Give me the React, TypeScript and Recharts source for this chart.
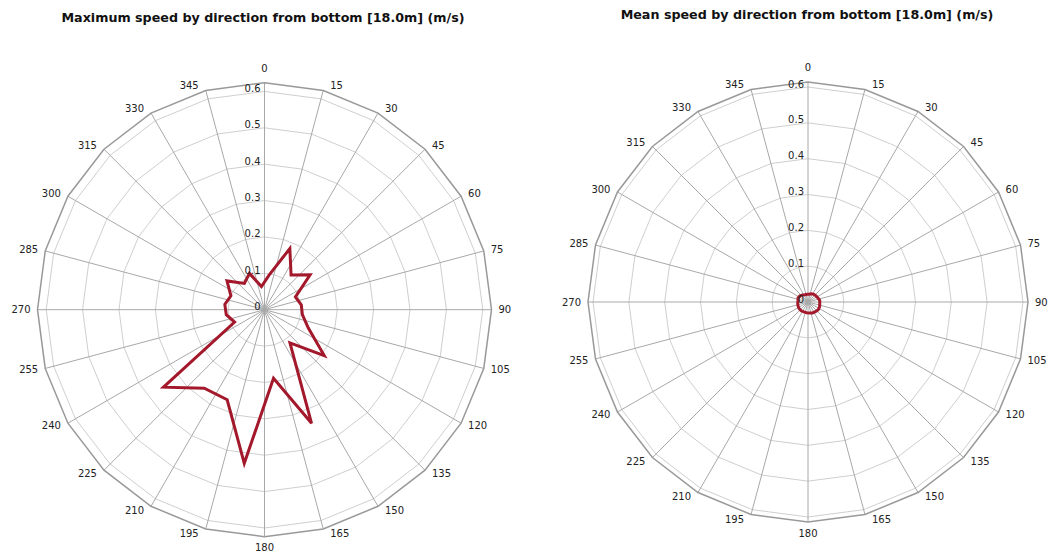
import React from 'react';
import { RadarChart, Radar, PolarGrid, PolarAngleAxis, PolarRadiusAxis } from 'recharts';

// compass labels on the axis
const DIRECTIONS = [0, 15, 30, 45, 60, 75, 90, 105, 120, 135, 150, 165, 180, 195, 210, 225, 240, 255, 270, 285, 300, 315, 330, 345];

// the speeds are plotted at the middle of each 15 degree bin
const BIN_CENTRES = [7.5, 22.5, 37.5, 52.5, 67.5, 82.5, 97.5, 112.5, 127.5, 142.5, 157.5, 172.5, 187.5, 202.5, 217.5, 232.5, 247.5, 262.5, 277.5, 292.5, 307.5, 322.5, 337.5, 352.5];

const MAX_SPEED = [0.096, 0.182, 0.12, 0.158, 0.092, 0.102, 0.105, 0.13, 0.207, 0.115, 0.338, 0.19, 0.426, 0.268, 0.272, 0.35, 0.089, 0.106, 0.11, 0.1, 0.13, 0.091, 0.108, 0.064];
const MEAN_SPEED = [0.022, 0.025, 0.027, 0.028, 0.03, 0.033, 0.033, 0.035, 0.036, 0.034, 0.033, 0.031, 0.03, 0.03, 0.031, 0.031, 0.03, 0.029, 0.028, 0.03, 0.028, 0.025, 0.022, 0.022];

const SPEED_TICKS = [0, 0.1, 0.2, 0.3, 0.4, 0.5, 0.6];

const FONT = '"DejaVu Sans", Verdana, sans-serif';
const LINE = '#a3182b';

const maxData = BIN_CENTRES.map((dir, i) => ({ dir, speed: MAX_SPEED[i] }));
const meanData = BIN_CENTRES.map((dir, i) => ({ dir, speed: MEAN_SPEED[i] }));

function angleTick(cx: number, cy: number, r: number) {
  return (props: any) => {
    const deg = Number(props.payload.value);
    const rad = (deg * Math.PI) / 180;
    const s = Math.sin(rad);
    const c = Math.cos(rad);
    const vx = cx + r * s;
    const vy = cy - r * c;
    let x = vx;
    let y = vy;
    let anchor = 'middle';
    if (Math.abs(s) < 0.01) {
      y = c > 0 ? vy - 14.5 : vy + 11;
    } else {
      anchor = s > 0 ? 'start' : 'end';
      x = vx + (s > 0 ? 7 : -7);
      y = vy - 5 * c;
    }
    return (
      <text x={x} y={y} textAnchor={anchor} dominantBaseline="central" fontSize={10} fontFamily={FONT} fill="#222">
        {deg}
      </text>
    );
  };
}

const radiusTick = (props: any) => (
  <text x={props.x - 4} y={props.y - 3} textAnchor="end" dominantBaseline="central" fontSize={10} fontFamily={FONT} fill="#222">
    {props.payload.value}
  </text>
);

function SpeedRose({ data, cx, cy, r, max }: { data: any[]; cx: number; cy: number; r: number; max: number }) {
  return (
    <RadarChart
      width={528}
      height={553}
      cx={cx}
      cy={cy}
      outerRadius={r}
      data={data}
      startAngle={90}
      endAngle={-270}
      margin={{ top: 0, right: 0, bottom: 0, left: 0 }}
    >
      <PolarGrid gridType="polygon" radialLines={false} stroke="#cfcfcf" />
      <PolarGrid gridType="polygon" polarRadius={[]} stroke="#a8a8a8" />
      <PolarGrid gridType="polygon" polarRadius={[r]} radialLines={false} stroke="#999" strokeWidth={1.5} />
      <PolarAngleAxis
        dataKey="dir"
        type="number"
        domain={[0, 360]}
        ticks={DIRECTIONS}
        axisLine={false}
        tickLine={false}
        tick={angleTick(cx, cy, r)}
      />
      <PolarRadiusAxis
        angle={90}
        type="number"
        domain={[0, max]}
        allowDecimals
        allowDataOverflow
        ticks={SPEED_TICKS}
        orientation="left"
        axisLine={false}
        tickLine={false}
        tick={radiusTick}
      />
      <Radar dataKey="speed" stroke={LINE} strokeWidth={3} fill="none" fillOpacity={0} dot={false} isAnimationActive={false} />
    </RadarChart>
  );
}

const titleStyle: React.CSSProperties = {
  position: 'absolute',
  width: 528,
  textAlign: 'center',
  fontFamily: FONT,
  fontWeight: 'bold',
  fontSize: 12.7,
  lineHeight: '14px',
  color: '#111',
};

export default function App() {
  return (
    <div style={{ position: 'absolute', left: 0, top: 0, width: 1056, height: 553, background: '#fff', overflow: 'hidden' }}>
      <div style={{ ...titleStyle, left: -1, top: 11 }}>Maximum speed by direction from bottom [18.0m] (m/s)</div>
      <div style={{ ...titleStyle, left: 543, top: 8 }}>Mean speed by direction from bottom [18.0m] (m/s)</div>
      <div style={{ position: 'absolute', left: 0, top: 0 }}>
        <SpeedRose data={maxData} cx={264.5} cy={309.7} r={227} max={0.624} />
      </div>
      <div style={{ position: 'absolute', left: 528, top: 0 }}>
        <SpeedRose data={meanData} cx={280} cy={302} r={220} max={0.614} />
      </div>
    </div>
  );
}
